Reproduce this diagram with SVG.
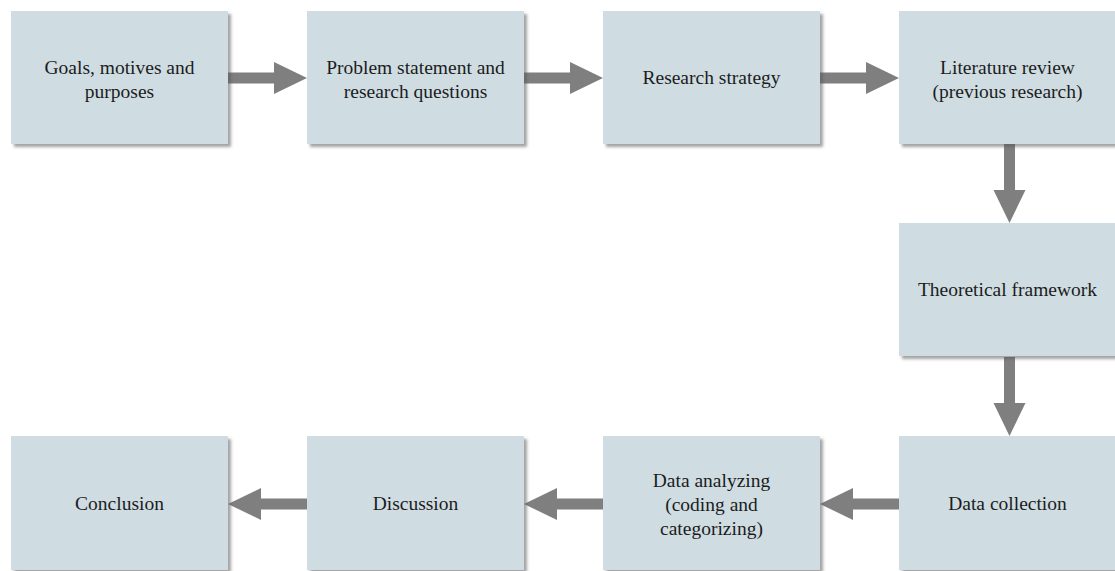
<svg xmlns="http://www.w3.org/2000/svg" width="1115" height="571" viewBox="0 0 1115 571">
  <defs>
    <filter id="shadow" x="-10%" y="-10%" width="130%" height="130%">
      <feDropShadow dx="3" dy="3" stdDeviation="1.6" flood-color="#555" flood-opacity="0.55"/>
    </filter>
    <!-- block arrow pointing right, tip at origin-relative (79,0) -->
    <polygon id="arrowR" points="0,-5.5 46,-5.5 46,-16 79,0 46,16 46,5.5 0,5.5"/>
  </defs>
  <style>
    .box { fill: #CFDDE3; filter: url(#shadow); }
    .lbl { font-family: "Liberation Serif", "Times New Roman", serif; font-size: 19.5px; fill: #1c1c1c; text-anchor: middle; }
    .conn use { fill: #7F7F7F; }
  </style>
  <rect width="1115" height="571" fill="#ffffff"/>

  <!-- connectors -->
  <g id="connectors" class="conn">
    <use href="#arrowR" transform="translate(228,78)"/>
    <use href="#arrowR" transform="translate(524,78)"/>
    <use href="#arrowR" transform="translate(820,78)"/>
    <use href="#arrowR" transform="translate(1009.5,144) rotate(90)"/>
    <use href="#arrowR" transform="translate(1009.5,357) rotate(90)"/>
    <use href="#arrowR" transform="translate(899,504) rotate(180)"/>
    <use href="#arrowR" transform="translate(603,504) rotate(180)"/>
    <use href="#arrowR" transform="translate(307,504) rotate(180)"/>
  </g>

  <!-- top row -->
  <g id="goals">
    <rect class="box" x="11" y="11" width="217" height="133"/>
    <text class="lbl" x="119.5" y="73.5">Goals, motives and</text>
    <text class="lbl" x="119.5" y="97.5">purposes</text>
  </g>
  <g id="problem">
    <rect class="box" x="307" y="11" width="217" height="133"/>
    <text class="lbl" x="415.5" y="73.5">Problem statement and</text>
    <text class="lbl" x="415.5" y="97.5">research questions</text>
  </g>
  <g id="strategy">
    <rect class="box" x="603" y="11" width="217" height="133"/>
    <text class="lbl" x="711.5" y="83.5">Research strategy</text>
  </g>
  <g id="literature">
    <rect class="box" x="899" y="11" width="217" height="133"/>
    <text class="lbl" x="1007.5" y="73.5">Literature review</text>
    <text class="lbl" x="1007.5" y="97.5">(previous research)</text>
  </g>

  <!-- right column -->
  <g id="framework">
    <rect class="box" x="899" y="223" width="217" height="133"/>
    <text class="lbl" x="1007.5" y="296">Theoretical framework</text>
  </g>

  <!-- bottom row -->
  <g id="collection">
    <rect class="box" x="899" y="436" width="217" height="134"/>
    <text class="lbl" x="1007.5" y="509.5">Data collection</text>
  </g>
  <g id="analyzing">
    <rect class="box" x="603" y="436" width="217" height="134"/>
    <text class="lbl" x="711.5" y="487">Data analyzing</text>
    <text class="lbl" x="711.5" y="511">(coding and</text>
    <text class="lbl" x="711.5" y="535">categorizing)</text>
  </g>
  <g id="discussion">
    <rect class="box" x="307" y="436" width="217" height="134"/>
    <text class="lbl" x="415.5" y="509.5">Discussion</text>
  </g>
  <g id="conclusion">
    <rect class="box" x="11" y="436" width="217" height="134"/>
    <text class="lbl" x="119.5" y="509.5">Conclusion</text>
  </g>
</svg>
